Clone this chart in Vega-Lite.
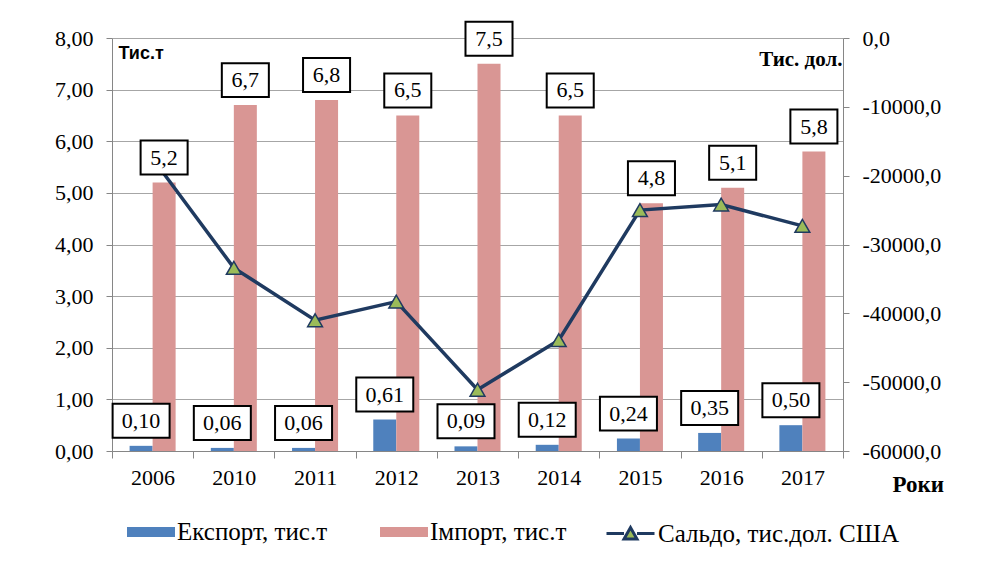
{
  "$schema": "https://vega.github.io/schema/vega-lite/v6.json",
  "width": 731,
  "height": 413,
  "autosize": "none",
  "padding": {"left": 112, "top": 38, "right": 157, "bottom": 117},
  "background": "white",
  "config": {
    "font": "Liberation Serif",
    "locale": {"number": {"decimal": ",", "thousands": " ", "grouping": [3], "currency": ["", ""], "minus": "-"}},
    "view": {"stroke": null},
    "axis": {"labelFont": "Liberation Serif", "labelFontSize": 22, "labelColor": "#000000", "domainColor": "#868686", "tickColor": "#868686", "gridColor": "#A6A6A6", "domainWidth": 1, "tickWidth": 1},
    "legend": {"labelFont": "Liberation Serif", "labelFontSize": 25, "labelColor": "#000000", "labelLimit": 400, "symbolSize": 2304, "labelOffset": 2, "columnPadding": 40}
  },
  "datasets": {
    "trade": [
      {"year": "2006", "series": "Експорт, тис.т", "value": 0.10},
      {"year": "2010", "series": "Експорт, тис.т", "value": 0.06},
      {"year": "2011", "series": "Експорт, тис.т", "value": 0.06},
      {"year": "2012", "series": "Експорт, тис.т", "value": 0.61},
      {"year": "2013", "series": "Експорт, тис.т", "value": 0.09},
      {"year": "2014", "series": "Експорт, тис.т", "value": 0.12},
      {"year": "2015", "series": "Експорт, тис.т", "value": 0.24},
      {"year": "2016", "series": "Експорт, тис.т", "value": 0.35},
      {"year": "2017", "series": "Експорт, тис.т", "value": 0.50},
      {"year": "2006", "series": "Імпорт, тис.т", "value": 5.2},
      {"year": "2010", "series": "Імпорт, тис.т", "value": 6.7},
      {"year": "2011", "series": "Імпорт, тис.т", "value": 6.8},
      {"year": "2012", "series": "Імпорт, тис.т", "value": 6.5},
      {"year": "2013", "series": "Імпорт, тис.т", "value": 7.5},
      {"year": "2014", "series": "Імпорт, тис.т", "value": 6.5},
      {"year": "2015", "series": "Імпорт, тис.т", "value": 4.8},
      {"year": "2016", "series": "Імпорт, тис.т", "value": 5.1},
      {"year": "2017", "series": "Імпорт, тис.т", "value": 5.8}
    ],
    "saldo": [
      {"year": "2006", "saldo": -17500},
      {"year": "2010", "saldo": -33400},
      {"year": "2011", "saldo": -41000},
      {"year": "2012", "saldo": -38300},
      {"year": "2013", "saldo": -51100},
      {"year": "2014", "saldo": -43900},
      {"year": "2015", "saldo": -25000},
      {"year": "2016", "saldo": -24200},
      {"year": "2017", "saldo": -27300}
    ]
  },
  "resolve": {"scale": {"y": "independent"}},
  "layer": [
    {
      "data": {"name": "trade"},
      "mark": {"type": "bar"},
      "encoding": {
        "x": {
          "field": "year", "type": "ordinal",
          "scale": {"paddingInner": 0, "paddingOuter": 0},
          "axis": {"orient": "bottom", "labelAngle": 0, "tickBand": "extent", "tickSize": 7, "labelPadding": 9, "grid": false,
            "title": "Роки", "titleX": 780, "titleY": 33, "titleAlign": "left", "titleBaseline": "middle",
            "titleFont": "Liberation Serif", "titleFontSize": 23, "titleFontWeight": "bold", "titleColor": "#000000"}
        },
        "xOffset": {"field": "series", "type": "nominal", "scale": {"domain": ["Експорт, тис.т", "Імпорт, тис.т"], "paddingInner": 0, "paddingOuter": 0.765}},
        "y": {
          "field": "value", "type": "quantitative",
          "scale": {"domain": [0, 8], "nice": false},
          "axis": {"orient": "left", "values": [0, 1, 2, 3, 4, 5, 6, 7, 8], "format": ".2f", "grid": true, "tickSize": 6, "labelPadding": 13,
            "title": "Тис.т", "titleAngle": 0, "titleX": 6, "titleY": 15, "titleAlign": "left", "titleBaseline": "middle",
            "titleFont": "Liberation Sans", "titleFontSize": 18, "titleFontWeight": "bold", "titleColor": "#000000"}
        },
        "color": {
          "field": "series", "type": "nominal",
          "scale": {"domain": ["Експорт, тис.т", "Імпорт, тис.т"], "range": ["#4F81BD", "#D99694"]},
          "legend": {"orient": "none", "legendX": 15, "legendY": 470, "direction": "horizontal", "title": null,
            "labelFont": "Liberation Serif", "labelFontSize": 25, "columnPadding": 52,
            "symbolType": "M-1,-0.21H1V0.21H-1Z", "symbolStrokeWidth": 0}
        }
      }
    },
    {
      "data": {"name": "saldo"},
      "encoding": {
        "x": {"field": "year", "type": "ordinal"},
        "y": {
          "field": "saldo", "type": "quantitative",
          "scale": {"domain": [-60000, 0], "nice": false},
          "axis": {"orient": "right", "values": [-60000, -50000, -40000, -30000, -20000, -10000, 0], "format": ".1f", "grid": false, "tickSize": 6, "labelPadding": 13,
            "title": "Тис. дол.", "titleAngle": 0, "titleX": -1, "titleY": 21, "titleAlign": "right", "titleBaseline": "middle",
            "titleFont": "Liberation Serif", "titleFontSize": 21, "titleFontWeight": "bold", "titleColor": "#000000"}
        }
      },
      "layer": [
        {"mark": {"type": "line", "stroke": "#1F3A60", "strokeWidth": 3.5}},
        {
          "mark": {"type": "point", "shape": "triangle-up", "filled": true, "stroke": "#1F3A60", "strokeWidth": 1.5, "size": 220, "opacity": 1},
          "encoding": {
            "fill": {"datum": "Сальдо, тис.дол. США", "type": "nominal", "scale": {"range": ["#9BBB59"]},
              "legend": {"orient": "none", "legendX": 493, "legendY": 470, "direction": "horizontal", "title": null,
                "labelFont": "Liberation Serif", "labelFontSize": 25,
                "symbolType": "M-1,0H-0.27M0.27,0H1M-0.27,0.23L0,-0.25L0.27,0.23Z", "symbolStrokeColor": "#1F3A60", "symbolStrokeWidth": 3, "symbolFillColor": "#9BBB59"}
            }
          }
        }
      ]
    },
    {
      "data": {"name": "trade"},
      "encoding": {
        "x": {"field": "year", "type": "ordinal"},
        "xOffset": {"field": "series", "type": "nominal"},
        "y": {"field": "value", "type": "quantitative", "scale": {"domain": [0, 8], "nice": false}, "axis": null}
      },
      "layer": [
        {
          "transform": [{"filter": "datum.series === 'Експорт, тис.т'"}],
          "mark": {"type": "point", "shape": "M-1,-1.473H1V-0.281H-1Z", "size": 3249, "filled": true, "fill": "#FFFFFF", "stroke": "#000000", "strokeWidth": 2, "opacity": 1, "fillOpacity": 1, "strokeOpacity": 1}
        },
        {
          "transform": [{"filter": "datum.series === 'Експорт, тис.т'"}],
          "mark": {"type": "text", "font": "Liberation Serif", "fontSize": 22, "dy": -25, "baseline": "middle", "align": "center", "color": "#000000"},
          "encoding": {"text": {"field": "value", "type": "quantitative", "format": ".2f"}}
        },
        {
          "transform": [{"filter": "datum.series === 'Імпорт, тис.т'"}],
          "mark": {"type": "point", "shape": "M-0.825,-1.473H0.825V-0.281H-0.825Z", "size": 3249, "filled": true, "fill": "#FFFFFF", "stroke": "#000000", "strokeWidth": 2, "opacity": 1, "fillOpacity": 1, "strokeOpacity": 1}
        },
        {
          "transform": [{"filter": "datum.series === 'Імпорт, тис.т'"}],
          "mark": {"type": "text", "font": "Liberation Serif", "fontSize": 22, "dy": -25, "baseline": "middle", "align": "center", "color": "#000000"},
          "encoding": {"text": {"field": "value", "type": "quantitative", "format": ".1f"}}
        }
      ]
    }
  ]
}
